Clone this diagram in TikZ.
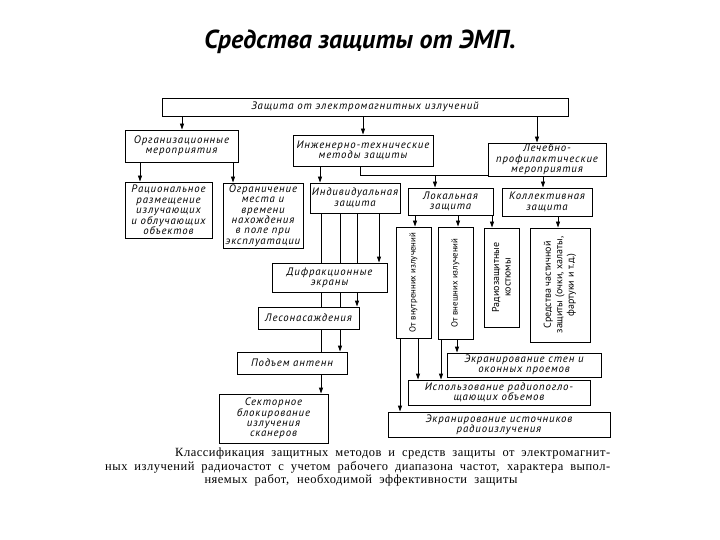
\documentclass[tikz,border=0pt]{standalone}
\usepackage{fontspec}
\setmainfont{Liberation Serif}
\newfontfamily\ptsans[LetterSpace=8]{PT Sans}
\newfontfamily\ptsansv{PT Sans}
\newfontfamily\titlefont{PT Sans}
\newfontfamily\capfont[LetterSpace=4]{Liberation Serif}
\usetikzlibrary{arrows.meta,backgrounds}
\tikzset{
  box/.style={draw, line width=0.9pt, fill=white, inner sep=0pt, align=center,
    font=\ptsans\itshape\fontsize{10.8}{10.4}\selectfont},
  vtext/.style={rotate=90, align=center, inner sep=0pt,
    font=\ptsansv\fontsize{8.8}{10.5}\selectfont},
  vtextb/.style={vtext, font=\ptsansv\fontsize{10}{11.5}\selectfont},
  arr/.style={line width=0.9pt, -{Triangle[length=6pt,width=4pt]}},
  capline/.style={anchor=base west, inner sep=0pt, font=\capfont\fontsize{12.5}{13}\selectfont}
}
\begin{document}
\begin{tikzpicture}[x=1pt,y=-1pt]
\useasboundingbox (0,0) rectangle (720,540);
% title
\node[font=\titlefont\bfseries\itshape\fontsize{26}{30}\selectfont] (title) at (360,42) {Средства защиты от ЭМП.};
% boxes
\node[box, minimum width=406, minimum height=18] (top) at (365,107) {Защита от электромагнитных излучений};
\node[box, minimum width=113, minimum height=32] (org) at (181.5,146) {Организационные\\мероприятия};
\node[box, minimum width=140, minimum height=31] (eng) at (363,150.5) {Инженерно-технические\\методы защиты};
\node[box, minimum width=118, minimum height=33] (med) at (547,159.5) {Лечебно-\\профилактические\\мероприятия};
\node[box, minimum width=87, minimum height=56] (rat) at (168.5,210) {Рациональное\\размещение\\излучающих\\и облучающих\\объектов};
\node[box, minimum width=80, minimum height=65] (ogr) at (263,215.5) {Ограничение\\места и\\времени\\нахождения\\в поле при\\эксплуатации};
\node[box, minimum width=90, minimum height=30] (ind) at (355,198) {Индивидуальная\\защита};
\node[box, minimum width=85, minimum height=27] (loc) at (450.5,201.5) {Локальная\\защита};
\node[box, minimum width=90, minimum height=28] (col) at (547,202) {Коллективная\\защита};
\node[box, minimum width=35, minimum height=111] (v1) at (413.5,282.5) {};
\node[vtext] (v1t) at (v1.center) {От внутренних излучений};
\node[box, minimum width=35, minimum height=112] (v2) at (455.5,283) {};
\node[vtext] (v2t) at (v2.center) {От внешних излучений};
\node[box, minimum width=35, minimum height=99] (v3) at (501.5,277.5) {};
\node[vtextb] (v3t) at (v3.center) {Радиозащитные\\костюмы};
\node[box, minimum width=60, minimum height=114] (v4) at (560,285) {};
\node[vtextb] (v4t) at (v4.center) {Средства частичной\\защиты (очки, халаты,\\фартуки и т.д.)};
\node[box, minimum width=115, minimum height=29] (dif) at (329.5,277.5) {Дифракционные\\экраны};
\node[box, minimum width=101, minimum height=22] (les) at (308.5,318) {Лесонасаждения};
\node[box, minimum width=110, minimum height=22] (pod) at (292,363) {Подъем антенн};
\node[box, minimum width=109, minimum height=49] (sek) at (273.5,418.5) {Секторное\\блокирование\\излучения\\сканеров};
\node[box, minimum width=154, minimum height=24] (ekst) at (524,365) {Экранирование стен и\\оконных проемов};
\node[box, minimum width=182, minimum height=25] (isp) at (499,392.5) {Использование радиопогло-\\щающих объемов};
\node[box, minimum width=222, minimum height=25] (ekist) at (499,424.5) {Экранирование источников\\радиоизлучения};
% caption
\node[capline] (cap1) at (175,456) {\makebox[435pt][s]{Классификация защитных методов и средств защиты от электромагнит-}};
\node[capline] (cap2) at (105,470) {\makebox[505pt][s]{ных излучений радиочастот с учетом рабочего диапазона частот, характера выпол-}};
\node[anchor=base, inner sep=0pt, font=\capfont\fontsize{12.5}{13}\selectfont] (cap3) at (361,483) {\makebox[313pt][s]{няемых работ, необходимой эффективности защиты}};
% connectors
\coordinate (jn) at (435,175);
\begin{scope}[on background layer]
\fill[white] (0,0) rectangle (720,540);
\draw[arr] (top.south -| 182,0) -- (org.north -| 182,0);
\draw[arr] (top.south -| 363,0) -- (eng.north -| 363,0);
\draw[arr] (top.south -| 537,0) -- (med.north -| 537,0);
\draw[arr] (org.south -| 140,0) -- (rat.north -| 140,0);
\draw[arr] (org.south -| 233,0) -- (ogr.north -| 233,0);
\draw[arr] (eng.south -| 320,0) -- (ind.north -| 320,0);
\draw[arr] (eng.south -| 360,0) |- (543,175) -- (col.north -| 543,0);
\draw[arr] (jn) -- (loc.north -| jn);
\draw[arr] (loc.south -| 415,0) -- (v1.north -| 415,0);
\draw[arr] (loc.south -| 458,0) -- (v2.north -| 458,0);
\draw[arr] (loc.south -| 492,0) -- (v3.north -| 492,0);
\draw[arr] (col.south -| 558,0) -- (v4.north -| 558,0);
\draw[arr] (ind.south -| 321,0) -- (sek.north -| 321,0);
\draw[arr] (ind.south -| 340,0) -- (pod.north -| 340,0);
\draw[arr] (ind.south -| 357,0) -- (les.north -| 357,0);
\draw[arr] (ind.south -| 379,0) -- (dif.north -| 379,0);
\draw[arr] (v1.south -| 400,0) -- (ekist.north -| 400,0);
\draw[arr] (v1.south -| 418,0) -- (isp.north -| 418,0);
\draw[arr] (v2.south -| 441,0) -- (isp.north -| 441,0);
\draw[arr] (v2.south -| 457,0) -- (ekst.north -| 457,0);
\end{scope}
\end{tikzpicture}
\end{document}
